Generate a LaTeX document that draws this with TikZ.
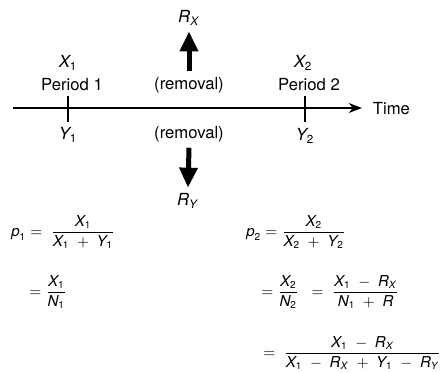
\documentclass[tikz,border=0pt]{standalone}
\usepackage{amsmath}
\usepackage{fontspec}
\setmainfont{TeX Gyre Heros}
\usetikzlibrary{arrows.meta}
\newcommand{\mv}[2]{\textit{#1}_{\text{#2}}}
\newcommand{\wideops}{\medmuskip=9mu\relax}
\tikzset{removal/.style={line width=3pt,-{Triangle[length=12pt,width=10.5pt]}},
  eqn/.style={anchor=west,inner sep=0pt,font=\fontsize{9}{11}\selectfont}}

\begin{document}
\begin{tikzpicture}[x=0.6pt,y=-0.6pt]
\useasboundingbox (0,0) rectangle (441,372);
% time axis
\coordinate (start) at (13,108);
\coordinate (end) at (362,108);
\draw[-{Stealth[length=8pt,width=6pt]},line width=1.1pt] (start) -- (end);
\node[anchor=west] (time) at (367,109) {Time};
% period ticks
\coordinate (t1a) at (68,96); \coordinate (t1b) at (68,122);
\coordinate (t2a) at (305,96); \coordinate (t2b) at (305,122);
\draw[line width=0.9pt] (t1a) -- (t1b);
\draw[line width=0.9pt] (t2a) -- (t2b);
\node (x1) at (68,63) {$\mv{X}{1}$};
\node (per1) at (72,85) {Period 1};
\node (y1) at (68,135) {$\mv{Y}{1}$};
\node (x2) at (303,63) {$\mv{X}{2}$};
\node (per2) at (309,85) {Period 2};
\node (y2) at (305,136) {$\mv{Y}{2}$};
% removals
\node (remx) at (189,85) {(removal)};
\node (rx) at (189,18) {$\mv{R}{\textit{X}}$};
\draw[removal] (remx.north) -- (rx.south);
\node (remy) at (189,134) {(removal)};
\node (ry) at (188,201) {$\mv{R}{\textit{Y}}$};
\draw[removal] (remy.south) -- (ry.north);
% proportions
\node[eqn] (prop1) at (11,232) {$\wideops\mv{p}{1} = \;\dfrac{\mv{X}{1}}{\mv{X}{1} + \mv{Y}{1}}$};
\node[eqn] (ratio1) at (29,292) {$= \dfrac{\mv{X}{1}}{\mv{N}{1}}$};
\node[eqn] (prop2) at (246,232) {$\wideops\mv{p}{2} = \dfrac{\mv{X}{2}}{\mv{X}{2} + \mv{Y}{2}}$};
\node[eqn] (ratio2) at (261,292) {$\wideops= \dfrac{\mv{X}{2}}{\mv{N}{2}} \;\;=\; \dfrac{\mv{X}{1} - \mv{R}{\textit{X}}}{\mv{N}{1} + \textit{R}}$};
\node[eqn] (ratio3) at (263,353) {$\wideops= \;\dfrac{\mv{X}{1} - \mv{R}{\textit{X}}}{\mv{X}{1} - \mv{R}{\textit{X}} + \mv{Y}{1} - \mv{R}{\textit{Y}}}$};
\end{tikzpicture}
\end{document}
